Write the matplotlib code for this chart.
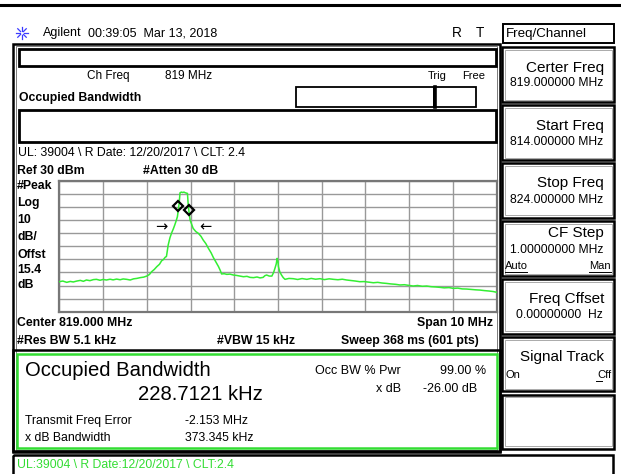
import math
import matplotlib
matplotlib.use("Agg")
import matplotlib.pyplot as plt
from matplotlib.patches import Rectangle

plt.rcParams['font.family'] = ['Liberation Sans', 'DejaVu Sans']

# ---------------- data ----------------
freq_mhz = [814.00, 814.08, 814.17, 814.25, 814.32, 814.40, 814.48, 814.55, 814.62, 814.70,
            814.78, 814.85, 814.93, 815.00, 815.08, 815.16, 815.23, 815.31, 815.39, 815.46,
            815.54, 815.62, 815.70, 815.77, 815.85, 815.93, 816.00, 816.06, 816.11, 816.17,
            816.23, 816.29, 816.34, 816.38, 816.42, 816.45, 816.49, 816.53, 816.57, 816.61,
            816.64, 816.67, 816.70, 816.72, 816.74, 816.76, 816.79, 816.82, 816.85, 816.88,
            816.93, 816.95, 816.99, 817.03, 817.06, 817.12, 817.18, 817.24, 817.29, 817.35,
            817.41, 817.47, 817.52, 817.58, 817.64, 817.68, 817.71, 817.77, 817.83, 817.90,
            817.98, 818.05, 818.13, 818.21, 818.29, 818.36, 818.44, 818.52, 818.59, 818.66,
            818.70, 818.74, 818.80, 818.86, 818.90, 818.93, 818.96, 818.98, 819.00, 819.01,
            819.04, 819.08, 819.12, 819.16, 819.25, 819.35, 819.45, 819.55, 819.66, 819.76,
            819.86, 819.96, 820.06, 820.17, 820.27, 820.37, 820.47, 820.57, 820.67, 820.77,
            820.87, 820.97, 821.08, 821.18, 821.28, 821.38, 821.48, 821.58, 821.69, 821.79,
            821.89, 821.99, 822.09, 822.19, 822.30, 822.40, 822.50, 822.60, 822.70, 822.80,
            822.91, 823.01, 823.11, 823.21, 823.31, 823.41, 823.52, 823.62, 823.72, 823.82,
            823.92, 824.00]
level_dbm = [-47.1, -46.6, -47.6, -46.9, -47.3, -46.6, -46.1, -46.8, -45.8, -46.3,
             -45.5, -45.3, -46.0, -45.4, -45.8, -45.2, -45.7, -45.1, -45.6, -45.0,
             -45.3, -45.8, -44.9, -44.6, -44.0, -43.6, -42.8, -41.6, -39.5, -37.8,
             -35.6, -33.8, -31.1, -30.2, -28.5, -27.8, -19.0, -13.5, -9.7, -6.5,
             -3.8, -0.8, 2.5, 7.5, 12.7, 20.8, 21.3, 21.0, 21.3, 20.8,
             20.3, 10.2, 0.0, -3.8, -6.4, -8.8, -10.2, -12.5, -15.3, -18.0,
             -21.7, -25.0, -28.5, -32.0, -35.6, -38.5, -41.2, -41.0, -41.5, -41.3,
             -42.0, -42.3, -42.8, -43.3, -43.0, -43.8, -44.0, -43.5, -44.2, -43.8,
             -42.5, -42.0, -42.8, -42.8, -40.0, -36.9, -33.5, -29.3, -32.0, -35.6,
             -39.5, -42.0, -44.0, -45.3, -44.6, -44.8, -45.4, -44.7, -45.3, -44.6,
             -45.2, -44.8, -45.5, -44.9, -45.3, -45.6, -45.2, -45.8, -46.2, -46.6,
             -47.1, -47.0, -47.5, -47.9, -47.6, -48.1, -48.4, -48.8, -49.1, -49.6,
             -49.4, -49.9, -50.4, -50.0, -50.6, -50.4, -50.9, -51.1, -51.4, -51.8,
             -51.6, -52.2, -52.0, -52.6, -52.7, -53.0, -53.3, -53.5, -53.9, -54.2,
             -54.6, -55.2]
marker_freq = [816.71, 816.96]
marker_level = [10.9, 7.6]
arrow_freq = [816.32, 817.35]
arrow_level = [-5.1, -5.1]
arrow_text = ['\u2192', '\u2190']

start_f, stop_f = 814.0, 824.0
ref_level, db_div, n_div = 30, 10, 10

W, H = 621, 474
fig = plt.figure(figsize=(W / 100, H / 100), dpi=100)
bg = fig.add_axes([0, 0, 1, 1])
bg.set_xlim(0, W)
bg.set_ylim(H, 0)
bg.axis('off')

FS = 8.8
FB = 8.8


def box(x0, y0, x1, y1, lw=1.6, ec='black', fc='none', z=1):
    bg.add_patch(Rectangle((x0, y0), x1 - x0, y1 - y0, lw=lw, ec=ec, fc=fc, zorder=z))


def txt(x, y, s, size=FS, ha='left', weight='normal', color='black', **kw):
    bg.text(x, y, s, fontsize=size, ha=ha, va='center', fontweight=weight, color=color, **kw)


# top line
bg.plot([0, W], [5, 5], color='black', lw=2.2)

# Agilent icon
for k in range(8):
    a = k * math.pi / 4
    bg.plot([22 + 2 * math.cos(a), 22 + 6 * math.cos(a)],
            [33 + 2 * math.sin(a), 33 + 6 * math.sin(a)], color='#3a3aff', lw=0.9)
txt(43, 33, 'Agilent', size=9.0)
txt(88, 33, '00:39:05  Mar 13, 2018', size=9.0)
txt(452, 33, 'R', size=9.8)
txt(476, 33, 'T', size=9.8)

# main left panel
box(13, 43.5, 499.5, 452, lw=1.8)
box(15.5, 46, 497, 449.5, lw=0.6, ec='#666666')
box(19, 49, 496, 66, lw=2.0)
txt(87, 76, 'Ch Freq', size=8.5)
txt(165, 76, '819 MHz', size=8.5)
txt(428, 76, 'Trig', size=8.0)
txt(462, 76, 'Free', size=8.0)
txt(19, 98, 'Occupied Bandwidth', size=FB, weight='bold')
box(296, 87, 434, 107, lw=1.3)
box(434, 87, 476, 107, lw=1.3)
bg.plot([434.5, 434.5], [87, 107], color='black', lw=2.6)
box(19, 110, 496, 142, lw=2.0)
txt(18, 153, 'UL: 39004 \\ R Date: 12/20/2017 \\ CLT: 2.4', size=FS)
txt(17, 171, 'Ref 30 dBm', size=FB, weight='bold')
txt(143, 171, '#Atten 30 dB', size=FB, weight='bold')
for yy, s in zip([186, 203, 220, 237, 255, 270, 285],
                 ['#Peak', 'Log', '10', 'dB/', 'Offst', '15.4', 'dB']):
    txt(17, yy, s, size=FB, weight='bold')
txt(17, 323, 'Center 819.000 MHz', size=FB, weight='bold')
txt(493, 323, 'Span 10 MHz', size=FB, weight='bold', ha='right')
txt(17, 341, '#Res BW 5.1 kHz', size=FB, weight='bold')
txt(217, 341, '#VBW 15 kHz', size=FB, weight='bold')
txt(341, 341, 'Sweep 368 ms (601 pts)', size=FB, weight='bold')

# results box
box(13, 350, 500, 451, lw=1.8)
box(17, 354, 497, 447.5, lw=1.8, ec='#33dd33')
txt(25, 371, 'Occupied Bandwidth', size=14.6)
txt(138, 394, '228.7121 kHz', size=14.6)
txt(315, 371, 'Occ BW % Pwr', size=9.0)
txt(486, 371, '99.00 %', size=9.0, ha='right')
txt(376, 389, 'x dB', size=9.0)
txt(423, 389, '-26.00 dB', size=9.0)
txt(25, 421, 'Transmit Freq Error', size=FS)
txt(185, 421, '-2.153 MHz', size=FS)
txt(25, 438, 'x dB Bandwidth', size=FS)
txt(185, 438, '373.345 kHz', size=FS)

# bottom status strip
box(13, 454.5, 613, 480, lw=1.8)
txt(17, 465, 'UL:39004 \\ R Date:12/20/2017 \\ CLT:2.4', size=FS, color='#33dd33')

# right softkeys
box(503, 23.5, 614, 43, lw=1.4)
txt(506, 34, 'Freq/Channel', size=9.6)
keys = [(47, 102, 'Certer Freq', '819.000000 MHz', 21, 36),
        (105, 160, 'Start Freq', '814.000000 MHz', 21, 37),
        (163, 217.5, 'Stop Freq', '824.000000 MHz', 20, 37),
        (221, 276, 'CF Step', '1.00000000 MHz', 12, 28.5),
        (279, 333.5, 'Freq Cffset', '0.00000000  Hz', 20, 36),
        (337, 391, 'Signal Track', None, 20, 0),
        (394.5, 448.5, None, None, 0, 0)]
for y0, y1, title, val, dt, dv in keys:
    box(502, y0, 614, y1, lw=1.8)
    box(504.5, y0 + 2.5, 611.5, y1 - 2.5, lw=0.5, ec='#888888')
    if title:
        txt(604, y0 + dt, title, size=11.0, ha='right')
    if val:
        txt(603, y0 + dv, val, size=8.7, ha='right')
txt(505, 266, 'Auto', size=8.0)
txt(611, 266, 'Man', size=8.0, ha='right')
bg.plot([505, 527], [272, 272], color='black', lw=0.7)
bg.plot([589, 611], [272, 272], color='black', lw=0.7)
txt(505, 375, 'On', size=8.0)
txt(611, 375, 'Cff', size=8.0, ha='right')
bg.plot([596, 602], [381, 381], color='black', lw=0.7)

# spectrum graticule
gl, gr, gt, gb = 59.3, 496.7, 180.7, 311.7
ax = fig.add_axes([gl / W, 1 - gb / H, (gr - gl) / W, (gb - gt) / H])
ax.set_xlim(start_f, stop_f)
ax.set_ylim(ref_level - db_div * n_div, ref_level)
ax.set_xticks([start_f + i * (stop_f - start_f) / n_div for i in range(n_div + 1)])
ax.set_yticks([ref_level - db_div * i for i in range(n_div + 1)])
ax.tick_params(length=0, labelbottom=False, labelleft=False)
ax.grid(True, color='#999999', lw=1.0)
for sp in ax.spines.values():
    sp.set_color('#777777')
    sp.set_linewidth(1.6)
ax.set_facecolor('white')
ax.plot(freq_mhz, level_dbm, color='#33ee33', lw=1.1, zorder=3)
ax.plot(marker_freq, marker_level, ls='none', marker='D', ms=5, mfc='none',
        mec='black', mew=1.6, zorder=4)
for f, l, s in zip(arrow_freq, arrow_level, arrow_text):
    ax.text(f, l, s, ha='center', va='center', fontsize=10.5, color='black',
            family='DejaVu Sans', zorder=4)

fig.savefig('out.png', dpi=100)
